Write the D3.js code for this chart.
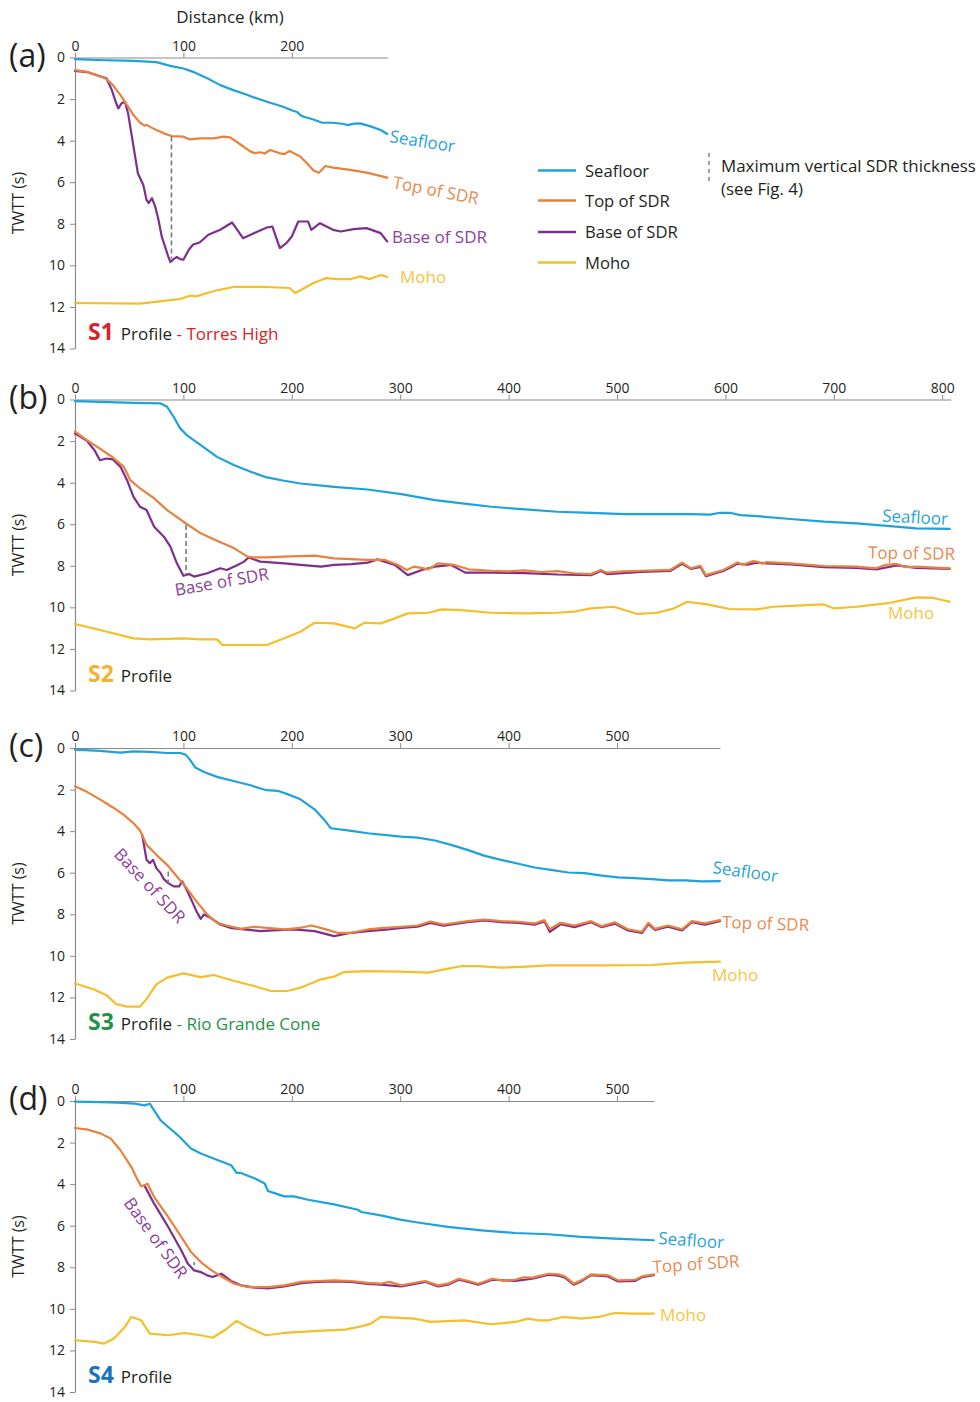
<!DOCTYPE html>
<html><head><meta charset="utf-8">
<script src="https://cdn.jsdelivr.net/npm/d3@7"></script>
<style>
body{margin:0;background:#fff;}
svg text{font-family:"Open Sans",sans-serif;}
</style>
</head><body>
<svg id="chart" width="980" height="1402"></svg>
<script>
// ---------------- DATA (distance km, TWTT s) ----------------
const seriesKeys = ["moho","base","top","seafloor"];
const seriesNames = {seafloor:"Seafloor", top:"Top of SDR", base:"Base of SDR", moho:"Moho"};
const yTicks = [0,2,4,6,8,10,12,14];

// Profile S1 (a)
const s1Ticks = [0,100,200];
const s1Seafloor = [[0,0.08],[20,0.12],[54,0.16],[75,0.22],[88,0.4],[100,0.53],[109,0.69],[122,1.0],[134,1.33],[146,1.57],[158,1.78],[165,1.92],[177,2.13],[192,2.37],[201,2.56],[205,2.62],[208,2.78],[211,2.85],[220,2.98],[228,3.14],[238,3.14],[248,3.2],[251,3.25],[258,3.18],[263,3.17],[272,3.3],[282,3.49],[288,3.68]];
const s1Top = [[0,0.61],[11,0.69],[23,0.9],[29,1.04],[35,1.33],[42,1.81],[48,2.29],[54,2.77],[60,3.14],[64,3.28],[66,3.24],[72,3.41],[82,3.65],[89,3.78],[100,3.81],[106,3.94],[115,3.89],[128,3.89],[137,3.81],[143,3.84],[152,4.16],[162,4.53],[166,4.6],[171,4.56],[175,4.62],[180,4.45],[189,4.61],[193,4.65],[198,4.5],[208,4.77],[214,5.09],[220,5.44],[225,5.54],[231,5.22],[238,5.3],[254,5.41],[269,5.54],[288,5.78]];
const s1Base = [[0,0.64],[11,0.7],[23,0.9],[29,1.0],[34,1.57],[38,2.2],[40,2.45],[43,2.2],[46,2.13],[49,2.69],[52,3.65],[55,4.61],[58,5.57],[63,6.13],[66,6.85],[68,7.0],[71,6.77],[74,7.17],[77,7.81],[80,8.61],[83,9.09],[86,9.57],[88,9.84],[91,9.7],[94,9.6],[97,9.7],[100,9.73],[105,9.25],[109,9.0],[115,8.9],[123,8.53],[134,8.29],[145,7.94],[155,8.69],[165,8.45],[177,8.18],[182,8.13],[189,9.17],[195,8.93],[200,8.61],[206,7.89],[215,7.89],[218,8.29],[226,7.97],[238,8.29],[245,8.37],[257,8.26],[269,8.21],[282,8.45],[288,8.85]];
const s1Moho = [[0,11.81],[60,11.84],[78,11.73],[97,11.62],[106,11.46],[112,11.49],[122,11.33],[131,11.2],[146,11.04],[162,11.04],[177,11.04],[198,11.09],[203,11.33],[208,11.2],[220,10.85],[232,10.61],[242,10.66],[254,10.66],[263,10.53],[272,10.66],[282,10.46],[288,10.56]];
const s1Dash = [89, 3.8, 9.68];

// Profile S2 (b)
const s2Ticks = [0,100,200,300,400,500,600,700,800];
const s2Seafloor = [[0,0.08],[23,0.11],[54,0.16],[79,0.19],[85,0.35],[91,0.83],[97,1.39],[103,1.71],[116,2.2],[131,2.76],[147,3.16],[162,3.48],[177,3.75],[193,3.91],[208,4.04],[239,4.2],[270,4.33],[301,4.55],[332,4.84],[363,5.03],[384,5.16],[415,5.29],[445,5.4],[476,5.45],[507,5.51],[537,5.51],[568,5.51],[586,5.54],[595,5.45],[604,5.45],[614,5.56],[629,5.61],[660,5.75],[691,5.88],[721,5.96],[752,6.09],[776,6.2],[807,6.22]];
const s2Top = [[0,1.55],[11,1.96],[23,2.36],[35,2.79],[45,3.24],[51,3.88],[60,4.28],[73,4.76],[85,5.32],[100,5.88],[116,6.44],[131,6.79],[147,7.16],[159,7.56],[165,7.6],[177,7.6],[193,7.56],[221,7.51],[239,7.64],[270,7.72],[286,7.72],[298,7.96],[306,8.2],[313,8.04],[326,8.17],[335,7.88],[350,7.96],[363,8.17],[384,8.24],[400,8.27],[415,8.22],[430,8.3],[445,8.26],[460,8.36],[476,8.4],[485,8.2],[491,8.33],[505,8.27],[522,8.24],[549,8.2],[560,7.85],[568,8.12],[577,8.0],[582,8.45],[598,8.2],[604,8.04],[611,7.84],[616,7.95],[620,7.88],[625,7.78],[629,7.8],[634,7.9],[638,7.82],[660,7.88],[691,8.01],[721,8.04],[739,8.12],[748,7.95],[758,7.91],[766,8.06],[776,8.04],[807,8.12]];
const s2Base = [[0,1.63],[11,1.99],[18,2.44],[23,2.92],[29,2.84],[35,2.88],[42,3.24],[48,3.88],[54,4.68],[60,5.16],[66,5.32],[73,6.12],[82,6.6],[88,7.08],[94,7.88],[100,8.48],[105,8.4],[110,8.52],[122,8.36],[134,8.12],[140,8.2],[150,7.96],[156,7.8],[160,7.6],[171,7.8],[193,7.88],[208,7.96],[227,8.04],[239,7.96],[255,7.92],[270,7.85],[279,7.69],[295,7.96],[307,8.45],[320,8.2],[332,8.04],[347,7.96],[360,8.33],[384,8.33],[415,8.35],[445,8.42],[476,8.45],[485,8.25],[491,8.4],[522,8.3],[549,8.25],[560,7.9],[568,8.15],[577,8.05],[582,8.5],[598,8.25],[604,8.1],[611,7.9],[620,7.95],[629,7.85],[638,7.88],[660,7.93],[691,8.06],[721,8.1],[739,8.18],[758,7.98],[776,8.1],[807,8.15]];
const s2Moho = [[0,10.8],[23,11.09],[54,11.49],[69,11.54],[100,11.49],[116,11.54],[131,11.54],[136,11.81],[153,11.81],[177,11.81],[193,11.49],[208,11.17],[221,10.74],[239,10.77],[258,11.01],[267,10.74],[282,10.77],[295,10.53],[307,10.29],[326,10.26],[338,10.1],[356,10.13],[384,10.26],[415,10.29],[445,10.26],[460,10.21],[476,10.05],[497,9.97],[519,10.32],[537,10.26],[552,10.06],[565,9.73],[583,9.86],[604,10.08],[629,10.1],[644,9.97],[675,9.89],[691,9.86],[700,10.05],[721,9.97],[752,9.78],[776,9.52],[791,9.54],[807,9.73]];
const s2Dash = [102.5, 6.04, 8.45];

// Profile S3 (c)
const s3Ticks = [0,100,200,300,400,500];
const s3Seafloor = [[0,0.08],[23,0.14],[42,0.22],[54,0.16],[69,0.19],[85,0.24],[97,0.24],[102,0.32],[106,0.56],[111,0.94],[119,1.15],[131,1.39],[147,1.6],[162,1.79],[171,1.95],[177,2.03],[187,2.06],[196,2.22],[208,2.47],[221,2.95],[230,3.46],[236,3.86],[255,3.99],[270,4.1],[301,4.26],[316,4.31],[332,4.45],[347,4.66],[362,4.9],[378,5.19],[393,5.38],[409,5.57],[424,5.75],[439,5.86],[455,5.99],[470,6.02],[486,6.14],[501,6.22],[516,6.26],[532,6.31],[547,6.37],[563,6.37],[578,6.42],[595,6.4]];
const s3Top = [[0,1.84],[11,2.11],[23,2.47],[35,2.86],[45,3.22],[54,3.62],[60,3.97],[66,4.66],[75,5.14],[85,5.62],[94,6.18],[103,6.74],[112,7.38],[122,8.01],[131,8.41],[140,8.54],[153,8.7],[165,8.6],[177,8.65],[193,8.73],[208,8.65],[218,8.54],[230,8.7],[242,8.89],[255,8.89],[270,8.73],[285,8.65],[301,8.6],[316,8.54],[328,8.35],[340,8.49],[362,8.33],[378,8.25],[393,8.33],[409,8.36],[424,8.44],[433,8.28],[438,8.72],[448,8.41],[461,8.54],[476,8.33],[486,8.57],[498,8.38],[510,8.72],[523,8.84],[529,8.41],[535,8.7],[547,8.54],[560,8.72],[569,8.33],[581,8.44],[595,8.28]];
const s3Base = [[62,4.18],[66,5.38],[69,5.54],[72,5.38],[75,5.78],[79,6.02],[82,6.31],[86,6.5],[91,6.66],[96,6.66],[99,6.42],[103,6.82],[108,7.38],[112,7.85],[116,8.22],[119,8.01],[125,8.17],[134,8.49],[143,8.65],[156,8.73],[171,8.81],[187,8.76],[202,8.73],[221,8.81],[239,9.05],[255,8.89],[270,8.81],[289,8.73],[301,8.65],[316,8.6],[328,8.42],[340,8.55],[362,8.38],[378,8.3],[393,8.38],[409,8.42],[424,8.5],[433,8.34],[438,8.85],[448,8.48],[461,8.62],[476,8.38],[486,8.62],[498,8.45],[510,8.78],[523,8.9],[529,8.47],[535,8.75],[547,8.6],[560,8.78],[569,8.38],[581,8.5],[595,8.33]];
const s3Moho = [[0,11.33],[17,11.61],[29,11.89],[38,12.32],[48,12.44],[60,12.44],[66,12.08],[75,11.37],[85,11.05],[100,10.84],[116,11.02],[128,10.92],[147,11.21],[165,11.45],[181,11.69],[196,11.69],[208,11.53],[221,11.26],[227,11.13],[239,11.0],[248,10.78],[270,10.73],[301,10.76],[326,10.81],[341,10.65],[357,10.49],[372,10.49],[393,10.57],[417,10.52],[436,10.46],[486,10.46],[532,10.44],[563,10.33],[595,10.28]];
const s3Dash = [86, 5.94, 6.5];

// Profile S4 (d)
const s4Ticks = [0,100,200,300,400,500];
const s4Seafloor = [[0,0.03],[24,0.05],[39,0.08],[55,0.13],[64,0.21],[69,0.13],[73,0.45],[79,0.93],[86,1.25],[95,1.65],[107,2.29],[116,2.53],[132,2.85],[144,3.09],[149,3.46],[153,3.46],[166,3.73],[175,3.97],[178,4.33],[184,4.43],[193,4.59],[202,4.59],[215,4.75],[239,4.97],[261,5.23],[264,5.34],[282,5.5],[300,5.71],[313,5.82],[344,6.06],[375,6.22],[406,6.35],[437,6.41],[467,6.54],[498,6.62],[534,6.7]];
const s4Top = [[0,1.3],[12,1.38],[24,1.57],[33,1.81],[42,2.37],[52,3.18],[58,3.82],[61,4.1],[64,4.05],[67,3.98],[73,4.62],[86,5.58],[98,6.54],[107,7.26],[116,7.75],[126,8.15],[135,8.44],[147,8.79],[159,8.95],[178,8.95],[193,8.87],[209,8.7],[224,8.66],[239,8.63],[255,8.66],[270,8.75],[282,8.79],[290,8.7],[301,8.87],[310,8.78],[323,8.66],[335,8.87],[344,8.79],[354,8.55],[363,8.66],[372,8.79],[385,8.55],[395,8.64],[406,8.6],[414,8.48],[422,8.5],[437,8.31],[446,8.34],[452,8.44],[460,8.79],[467,8.63],[476,8.34],[492,8.39],[501,8.63],[517,8.6],[523,8.44],[534,8.34]];
const s4Base = [[64,4.06],[73,4.94],[86,6.06],[98,7.18],[104,7.82],[110,8.15],[116,8.23],[122,8.39],[127,8.47],[135,8.31],[144,8.66],[153,8.87],[166,8.98],[178,9.02],[193,8.92],[209,8.76],[224,8.7],[239,8.68],[255,8.7],[270,8.8],[282,8.84],[301,8.92],[323,8.7],[335,8.92],[344,8.84],[354,8.6],[363,8.7],[372,8.84],[385,8.6],[406,8.65],[422,8.55],[437,8.36],[446,8.4],[452,8.5],[460,8.84],[467,8.68],[476,8.38],[492,8.44],[501,8.68],[517,8.65],[523,8.48],[534,8.38]];
const s4Moho = [[0,11.51],[18,11.59],[27,11.67],[36,11.43],[46,10.87],[52,10.39],[61,10.55],[69,11.19],[86,11.27],[101,11.16],[116,11.27],[127,11.39],[138,11.03],[149,10.58],[159,10.87],[176,11.27],[193,11.16],[224,11.06],[249,11.0],[264,10.84],[273,10.71],[282,10.39],[313,10.47],[328,10.63],[359,10.55],[384,10.74],[406,10.63],[418,10.47],[427,10.55],[437,10.55],[450,10.39],[467,10.47],[483,10.39],[498,10.2],[514,10.23],[534,10.23]];
const s4Dash = [110, 7.75, 7.9];

// ---------------- STYLE / LAYOUT ----------------
const lineColors = {seafloor:"#1ea2da", top:"#e9813d", base:"#7e2f8e", moho:"#f4bf2a"};
const labelColors = {seafloor:"#2ba3d8", top:"#e98a50", base:"#8d3f9b", moho:"#f5c645"};
const txtColor = "#231f20", axisColor = "#8a8a8a";
const LEFT = 75, PXKM = 1.084, PH = 291;

const panels = [
  {letter:"(a)", top:57.5, xEnd:288, ticks:s1Ticks, data:{seafloor:s1Seafloor, top:s1Top, base:s1Base, moho:s1Moho}, dash:s1Dash,
   prof:{s:"S1", sc:"#d7232a", rest:"Torres High", rc:"#d7232a"},
   labels:[["seafloor",389,84.5,9],["top",392,130.5,11],["base",392,185.5,0],["moho",400,225.5,0]]},
  {letter:"(b)", top:399.5, xEnd:808, ticks:s2Ticks, data:{seafloor:s2Seafloor, top:s2Top, base:s2Base, moho:s2Moho}, dash:s2Dash,
   prof:{s:"S2", sc:"#f3b232"},
   labels:[["seafloor",882,122,3],["top",868,159,1],["base",176,196.5,-10],["moho",888,219.5,0]]},
  {letter:"(c)", top:748, xEnd:595, ticks:s3Ticks, data:{seafloor:s3Seafloor, top:s3Top, base:s3Base, moho:s3Moho}, dash:s3Dash,
   prof:{s:"S3", sc:"#1e9447", rest:"Rio Grande Cone", rc:"#1e9447"},
   labels:[["seafloor",712,125,8],["top",722,180,2],["base",113,107,47],["moho",712,233,0]]},
  {letter:"(d)", top:1101, xEnd:534, ticks:s4Ticks, data:{seafloor:s4Seafloor, top:s4Top, base:s4Base, moho:s4Moho}, dash:s4Dash,
   prof:{s:"S4", sc:"#1b75bc"},
   labels:[["seafloor",658,143,4],["top",653,172,-4],["base",123,102,54],["moho",660,220,0]]}
];

const svg = d3.select("#chart");

svg.append("text").attr("x",230).attr("y",23).attr("text-anchor","middle")
  .attr("font-size",17).attr("fill",txtColor).text("Distance (km)");

panels.forEach(p => {
  const x = d3.scaleLinear().domain([0,p.xEnd]).range([LEFT, LEFT + p.xEnd*PXKM]);
  const y = d3.scaleLinear().domain([0,14]).range([p.top, p.top+PH]);
  const g = svg.append("g");

  // axes
  const xa = g.append("g").attr("transform",`translate(0,${p.top})`)
    .call(d3.axisTop(x).tickValues(p.ticks).tickSize(5).tickSizeOuter(0).tickPadding(2));
  const ya = g.append("g").attr("transform",`translate(${LEFT},0)`)
    .call(d3.axisLeft(y).tickValues(yTicks).tickSize(5).tickSizeOuter(0).tickPadding(5));
  [xa,ya].forEach(a => {
    a.select(".domain").attr("stroke",axisColor).attr("stroke-width",1.2);
    a.selectAll(".tick line").attr("stroke",axisColor).attr("stroke-width",1);
    a.selectAll(".tick text").attr("font-size",14).attr("fill",txtColor)
      .attr("font-family",'"Open Sans",sans-serif');
  });

  // panel letter
  g.append("text").attr("x",9).attr("y",p.top+9).attr("font-size",32)
    .attr("fill",txtColor).text(p.letter);
  // y title
  g.append("text").attr("transform",`translate(24,${p.top+PH/2}) rotate(-90)`)
    .attr("text-anchor","middle").attr("font-size",16).attr("fill",txtColor).text("TWTT (s)");

  // lines
  const line = d3.line().x(d=>x(d[0])).y(d=>y(d[1]));
  seriesKeys.forEach(k => {
    g.append("path").datum(p.data[k]).attr("d",line).attr("fill","none")
      .attr("stroke",lineColors[k]).attr("stroke-width",2.2)
      .attr("stroke-linejoin","round").attr("stroke-linecap","round");
  });

  // max SDR thickness marker
  g.append("line").attr("x1",x(p.dash[0])).attr("x2",x(p.dash[0]))
    .attr("y1",y(p.dash[1])).attr("y2",y(p.dash[2]))
    .attr("stroke","#7a7a7a").attr("stroke-width",1.6).attr("stroke-dasharray","5,3");

  // series labels
  p.labels.forEach(([k,lx,ly,ang]) => {
    g.append("text").attr("transform",`translate(${lx},${p.top+ly}) rotate(${ang})`)
      .attr("font-size",17).attr("fill",labelColors[k]).text(seriesNames[k]);
  });

  // profile label
  const t = g.append("text").attr("x",88).attr("y",p.top+282).attr("fill",txtColor);
  t.append("tspan").attr("font-size",23).attr("font-weight","bold").attr("fill",p.prof.sc).text(p.prof.s);
  t.append("tspan").attr("font-size",17).attr("dx",7).text("Profile");
  if (p.prof.rest) {
    t.append("tspan").attr("font-size",17).text(" - ").attr("fill",p.prof.rc);
    t.append("tspan").attr("font-size",17).attr("fill",p.prof.rc).text(p.prof.rest);
  }
});

// legend
const legendKeys = ["seafloor","top","base","moho"];
const legY = [170.5,200.5,232,262.5];
legendKeys.forEach((k,i) => {
  svg.append("line").attr("x1",538).attr("x2",576).attr("y1",legY[i]).attr("y2",legY[i])
    .attr("stroke",lineColors[k]).attr("stroke-width",2.6);
  svg.append("text").attr("x",585).attr("y",legY[i]+6).attr("font-size",16.6)
    .attr("fill",txtColor).text(seriesNames[k]);
});
svg.append("line").attr("x1",709).attr("x2",709).attr("y1",153).attr("y2",181)
  .attr("stroke","#8a8a8a").attr("stroke-width",1.6).attr("stroke-dasharray","4,4");
svg.append("text").attr("x",721).attr("y",171.5).attr("font-size",16.9).attr("fill",txtColor)
  .text("Maximum vertical SDR thickness");
svg.append("text").attr("x",721).attr("y",195).attr("font-size",16.9).attr("fill",txtColor)
  .text("(see Fig. 4)");
</script>
</body></html>
